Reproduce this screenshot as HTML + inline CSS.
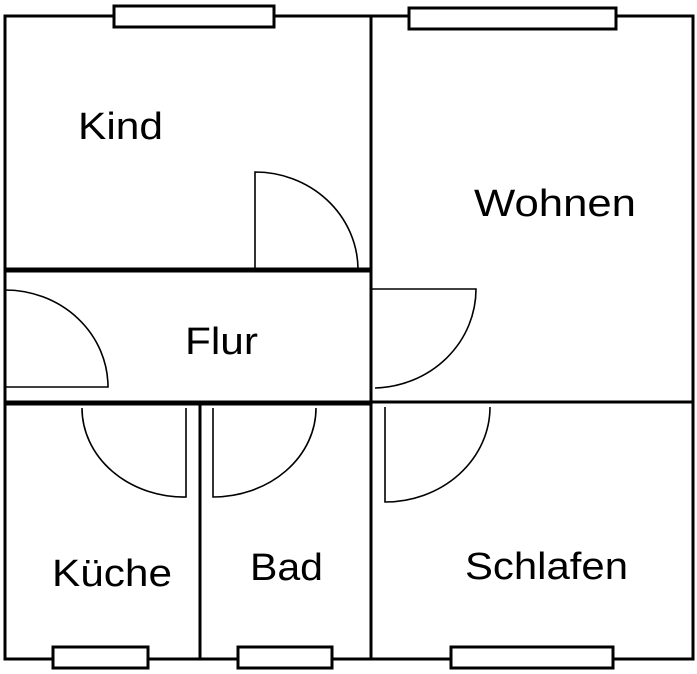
<!DOCTYPE html>
<html><head><meta charset="utf-8"><style>body{margin:0;background:#fff}svg{display:block}</style></head><body>
<svg width="697" height="674" viewBox="0 0 697 674" xmlns="http://www.w3.org/2000/svg">
<g fill="none" stroke="#000">
<rect x="5" y="16" width="688" height="643" stroke-width="3"/>
<line x1="371" y1="16" x2="371" y2="659" stroke-width="3"/>
<line x1="5" y1="270" x2="371" y2="270" stroke-width="5"/>
<line x1="5" y1="403" x2="371" y2="403" stroke-width="5"/>
<line x1="371" y1="402" x2="693" y2="402" stroke-width="3"/>
<line x1="200" y1="403" x2="200" y2="659" stroke-width="3"/>
<g fill="#fff" stroke-width="3">
<rect x="114" y="6" width="160" height="21"/>
<rect x="409" y="8" width="207" height="21"/>
<rect x="53" y="647" width="95" height="21"/>
<rect x="238" y="647" width="94" height="21"/>
<rect x="451" y="647" width="162" height="21"/>
</g>
<g stroke-width="1.6">
<path d="M255 270 V172 A103 98 0 0 1 358 268"/>
<path d="M5 387 H108 A103 97 0 0 0 5 290"/>
<path d="M372 289 H476 A104 99 0 0 1 375 388"/>
<path d="M186 408 V497 A102 89 0 0 1 82 408"/>
<path d="M213 408 V497 A103 89 0 0 0 316 408"/>
<path d="M385 407 V502 A105 95 0 0 0 490 407"/>
</g>
</g>
<g font-family="Liberation Sans, sans-serif" font-size="38" fill="#000">
<text x="78" y="139" textLength="85" lengthAdjust="spacingAndGlyphs">Kind</text>
<text x="474" y="216" textLength="162" lengthAdjust="spacingAndGlyphs">Wohnen</text>
<text x="185" y="354" textLength="73" lengthAdjust="spacingAndGlyphs">Flur</text>
<text x="52" y="586" textLength="120" lengthAdjust="spacingAndGlyphs">Küche</text>
<text x="250" y="580" textLength="73" lengthAdjust="spacingAndGlyphs">Bad</text>
<text x="465" y="579" textLength="163" lengthAdjust="spacingAndGlyphs">Schlafen</text>
</g>
</svg>
</body></html>
